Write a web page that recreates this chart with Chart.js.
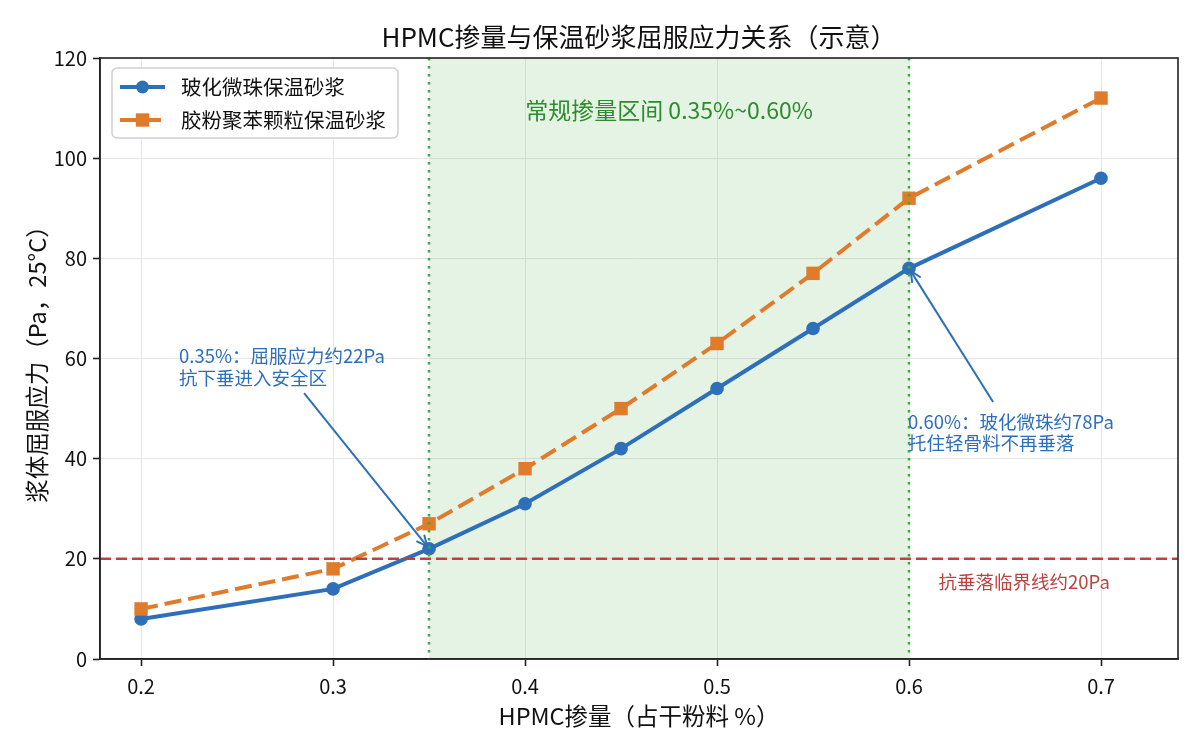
<!DOCTYPE html>
<html><head><meta charset="utf-8">
<script src="https://cdn.jsdelivr.net/npm/chart.js@4"></script>
<style>html,body{margin:0;padding:0;background:#fff}canvas{display:block}</style>
</head><body>
<canvas id="c" width="1200" height="750"></canvas>
<script>
// ---- data ----
const hpmcDosage = [0.2, 0.3, 0.35, 0.4, 0.45, 0.5, 0.55, 0.6, 0.7];
const vitrifiedBeadStress = [8, 14, 22, 31, 42, 54, 66, 78, 96];
const epsParticleStress = [10, 18, 27, 38, 50, 63, 77, 92, 112];
const xTickValues = [0.2, 0.3, 0.4, 0.5, 0.6, 0.7];
const yTickValues = [0, 20, 40, 60, 80, 100, 120];
const seriesNames = ['玻化微珠保温砂浆', '胶粉聚苯颗粒保温砂浆'];
const normalRange = [0.35, 0.60];
const criticalStress = 20;
const titleText = 'HPMC掺量与保温砂浆屈服应力关系（示意）';
const xTitle = 'HPMC掺量（占干粉料 %）';
const yTitle = '浆体屈服应力（Pa，25°C）';
const rangeLabel = '常规掺量区间 0.35%~0.60%';
const criticalLabel = '抗垂落临界线约20Pa';
const noteLeft = ['0.35%：屈服应力约22Pa', '抗下垂进入安全区'];
const noteRight = ['0.60%：玻化微珠约78Pa', '托住轻骨料不再垂落'];

// ---- styles / placement ----
const FONT = '"Noto Sans CJK SC", "Noto Sans", sans-serif';
const BLUE = '#2e6fba', ORANGE = '#e07b2c', RED = '#b94343', GREEN = '#3cab3c';
const annLeft = {text: noteLeft, tx: 0.2198, ty: 60.5, ax: 0.2849, ay: 53.1, px: 0.35, py: 22};
const annRight = {text: noteRight, tx: 0.5995, ty: 47.4, ax: 0.6438, ay: 51.3, px: 0.6, py: 78};

function arrow(ctx, x1, y1, x2, y2, color) {
  const ang = Math.atan2(y2 - y1, x2 - x1);
  const shrink = 3;
  x2 -= Math.cos(ang) * shrink; y2 -= Math.sin(ang) * shrink;
  ctx.save();
  ctx.strokeStyle = color; ctx.lineWidth = 2; ctx.setLineDash([]);
  ctx.beginPath(); ctx.moveTo(x1, y1); ctx.lineTo(x2, y2); ctx.stroke();
  const L = 11, W = 5;
  const bx = x2 - Math.cos(ang) * L, by = y2 - Math.sin(ang) * L;
  const nx = -Math.sin(ang) * W, ny = Math.cos(ang) * W;
  ctx.beginPath(); ctx.moveTo(bx + nx, by + ny); ctx.lineTo(x2, y2); ctx.lineTo(bx - nx, by - ny); ctx.stroke();
  ctx.restore();
}

const decor = {
  id: 'decor',
  beforeDatasetsDraw(chart) {
    const {ctx, chartArea: a, scales: {x, y}} = chart;
    ctx.save();
    ctx.fillStyle = 'rgba(44,160,44,0.12)';
    const x0 = x.getPixelForValue(normalRange[0]), x1 = x.getPixelForValue(normalRange[1]);
    ctx.fillRect(x0, a.top, x1 - x0, a.bottom - a.top);
    ctx.restore();
  },
  afterDatasetsDraw(chart) {
    const {ctx, chartArea: a, scales: {x, y}} = chart;
    ctx.save();
    // vertical dotted lines
    ctx.strokeStyle = GREEN; ctx.lineWidth = 2.5; ctx.setLineDash([2.5, 5.5]);
    normalRange.forEach(v => {
      const px = Math.round(x.getPixelForValue(v));
      ctx.beginPath(); ctx.moveTo(px, a.top); ctx.lineTo(px, a.bottom); ctx.stroke();
    });
    // critical line
    ctx.strokeStyle = RED; ctx.lineWidth = 2.5; ctx.setLineDash([11, 5]);
    const py = y.getPixelForValue(criticalStress);
    ctx.beginPath(); ctx.moveTo(a.left, py); ctx.lineTo(a.right, py); ctx.stroke();
    ctx.setLineDash([]);
    // texts
    ctx.textBaseline = 'middle';
    ctx.fillStyle = '#2e8b2e'; ctx.font = '23px ' + FONT; ctx.textAlign = 'center';
    ctx.fillText(rangeLabel, x.getPixelForValue((normalRange[0] + normalRange[1]) / 2), y.getPixelForValue(109.6));
    ctx.fillStyle = RED; ctx.font = '18.5px ' + FONT;
    ctx.fillText(criticalLabel, x.getPixelForValue(0.66), y.getPixelForValue(15.4));
    ctx.textAlign = 'left'; ctx.fillStyle = BLUE; ctx.font = '18.5px ' + FONT;
    [annLeft, annRight].forEach(an => {
      const tx = x.getPixelForValue(an.tx), ty = y.getPixelForValue(an.ty);
      an.text.forEach((t, i) => ctx.fillText(t, tx, ty + i * 21.5));
      arrow(ctx, x.getPixelForValue(an.ax), y.getPixelForValue(an.ay), x.getPixelForValue(an.px), y.getPixelForValue(an.py), BLUE);
    });
    ctx.restore();
  },
  afterDraw(chart) {
    const {ctx, chartArea: a} = chart;
    ctx.save();
    // spines
    ctx.strokeStyle = '#222'; ctx.lineWidth = 1.6;
    ctx.strokeRect(a.left, a.top, a.right - a.left, a.bottom - a.top);
    // title
    ctx.fillStyle = '#111'; ctx.textAlign = 'center'; ctx.textBaseline = 'middle';
    ctx.font = '26px ' + FONT;
    ctx.fillText(titleText, (a.left + a.right) / 2, 37);
    ctx.font = '23.5px ' + FONT;
    ctx.fillText(xTitle, (a.left + a.right) / 2, 716);
    ctx.save();
    ctx.translate(37, (a.top + a.bottom) / 2); ctx.rotate(-Math.PI / 2);
    ctx.fillText(yTitle, 0, 0);
    ctx.restore();
    // legend
    const lx = 112, ly = 68, lw = 286, lh = 70;
    ctx.beginPath();
    if (ctx.roundRect) ctx.roundRect(lx, ly, lw, lh, 5); else ctx.rect(lx, ly, lw, lh);
    ctx.fillStyle = 'rgba(255,255,255,0.85)'; ctx.fill();
    ctx.strokeStyle = '#cfcfcf'; ctx.lineWidth = 1.5; ctx.stroke();
    chart.data.datasets.forEach((ds, i) => {
      const cy = 87 + i * 33;
      ctx.strokeStyle = ds.borderColor; ctx.lineWidth = 4;
      ctx.setLineDash(ds.borderDash || []);
      ctx.beginPath(); ctx.moveTo(120, cy); ctx.lineTo(165, cy); ctx.stroke();
      ctx.setLineDash([]);
      ctx.fillStyle = ds.pointBackgroundColor;
      if (ds.pointStyle === 'rect') ctx.fillRect(142.5 - 6.7, cy - 6.7, 13.4, 13.4);
      else { ctx.beginPath(); ctx.arc(142.5, cy, 6.5, 0, Math.PI * 2); ctx.fill(); }
      ctx.fillStyle = '#111'; ctx.font = '20.5px ' + FONT; ctx.textAlign = 'left'; ctx.textBaseline = 'middle';
      ctx.fillText(ds.label, 181, cy);
    });
    ctx.restore();
  }
};

new Chart(document.getElementById('c'), {
  type: 'line',
  data: {
    datasets: [
      {
        label: seriesNames[0],
        data: hpmcDosage.map((v, i) => ({x: v, y: vitrifiedBeadStress[i]})),
        borderColor: BLUE, backgroundColor: BLUE, pointBackgroundColor: BLUE, pointBorderColor: BLUE,
        borderWidth: 4, pointRadius: 6.8, pointHoverRadius: 6.8, pointBorderWidth: 0, pointStyle: 'circle', tension: 0, order: 1
      },
      {
        label: seriesNames[1],
        data: hpmcDosage.map((v, i) => ({x: v, y: epsParticleStress[i]})),
        borderColor: ORANGE, backgroundColor: ORANGE, pointBackgroundColor: ORANGE, pointBorderColor: ORANGE,
        borderWidth: 4, borderDash: [17, 7], pointRadius: 9.5, pointHoverRadius: 9.5, pointBorderWidth: 0,
        pointStyle: 'rect', tension: 0, order: 0
      }
    ]
  },
  options: {
    responsive: false, animation: false, devicePixelRatio: 1,
    layout: {padding: {top: 58, right: 22, left: 0, bottom: 0}},
    plugins: {legend: {display: false}, title: {display: false}, tooltip: {enabled: false}},
    scales: {
      x: {
        type: 'linear', min: 0.1786, max: 0.7401,
        afterFit: s => { s.height = 91; },
        afterBuildTicks: s => { s.ticks = xTickValues.map(v => ({value: v})); },
        ticks: {callback: v => v.toFixed(1), font: {family: FONT, size: 20}, color: '#111', padding: 8, maxRotation: 0},
        grid: {color: '#e6e6e6', lineWidth: 1, tickColor: '#222', tickLength: 7, tickWidth: 1.6},
        border: {color: '#222', width: 1.6}
      },
      y: {
        type: 'linear', min: 0, max: 120,
        afterFit: s => { s.width = 100; },
        afterBuildTicks: s => { s.ticks = yTickValues.map(v => ({value: v})); },
        ticks: {font: {family: FONT, size: 20}, color: '#111', padding: 6},
        grid: {color: '#e6e6e6', lineWidth: 1, tickColor: '#222', tickLength: 7, tickWidth: 1.6},
        border: {color: '#222', width: 1.6}
      }
    }
  },
  plugins: [decor]
});
</script>
</body></html>
